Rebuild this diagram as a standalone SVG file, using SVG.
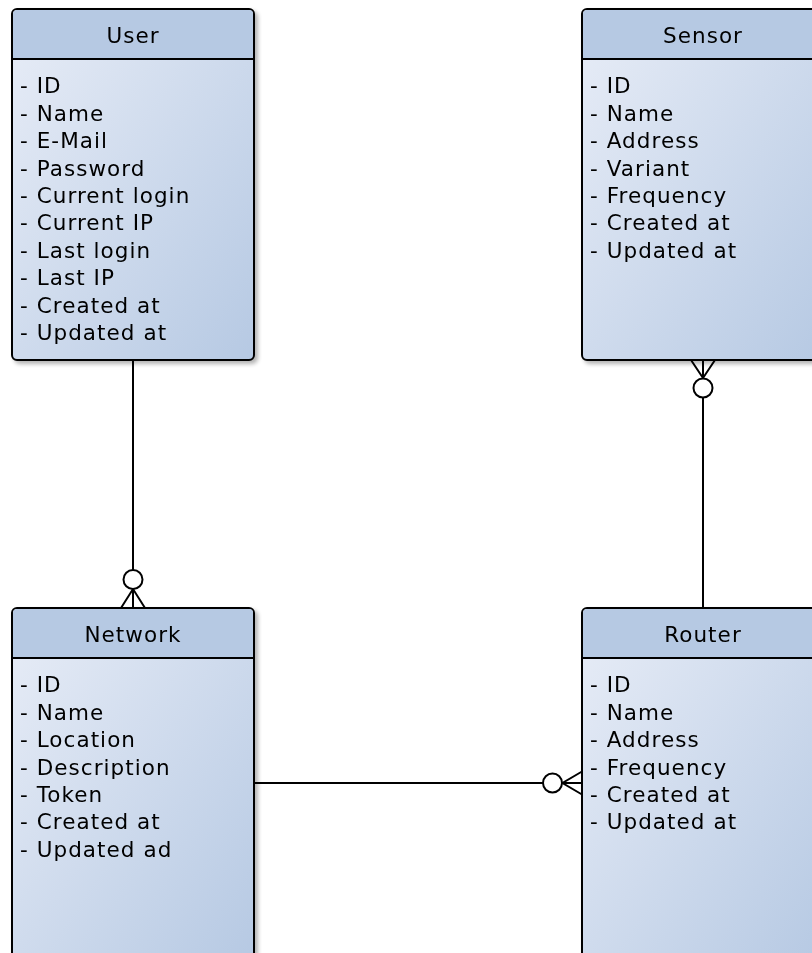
<svg xmlns="http://www.w3.org/2000/svg" width="812" height="953" viewBox="0 0 812 953">
  <defs>
    <linearGradient id="bodyFill" x1="0" y1="0" x2="1" y2="1">
      <stop offset="0" stop-color="#e8edf7"/>
      <stop offset="1" stop-color="#b6c9e3"/>
    </linearGradient>
    <filter id="shadow" x="-5%" y="-5%" width="115%" height="115%">
      <feGaussianBlur in="SourceAlpha" stdDeviation="2"/>
      <feOffset dx="3" dy="3" result="b"/>
      <feComponentTransfer><feFuncA type="linear" slope="0.3"/></feComponentTransfer>
      <feMerge><feMergeNode/><feMergeNode in="SourceGraphic"/></feMerge>
    </filter>
  </defs>
  <style>
    .box { fill: url(#bodyFill); stroke: #000; stroke-width: 2; }
    .head { fill: #b6c9e3; }
    .sep { stroke: #000; stroke-width: 2; }
    .title { font-family: "DejaVu Sans", sans-serif; font-size: 21.5px; letter-spacing: 1.05px; fill: #000; text-anchor: middle; }
    .attr { font-family: "DejaVu Sans", sans-serif; font-size: 21.5px; letter-spacing: 1.05px; fill: #000; }
    .conn { fill: none; stroke: #000; stroke-width: 2; }
    .ring { fill: #fff; stroke: #000; stroke-width: 2; }
  </style>

  <!-- User entity -->
  <g id="user" filter="url(#shadow)">
    <rect class="box" x="12" y="9" width="242" height="351" rx="5"/>
    <path class="head" d="M13 59 V14 a4 4 0 0 1 4 -4 H249 a4 4 0 0 1 4 4 V59 Z"/>
    <line class="sep" x1="12" y1="59" x2="254" y2="59"/>
    <text class="title" x="133" y="42.5">User</text>
    <text class="attr" x="20" y="93.3">- ID</text>
    <text class="attr" x="20" y="120.7">- Name</text>
    <text class="attr" x="20" y="148.1">- E-Mail</text>
    <text class="attr" x="20" y="175.5">- Password</text>
    <text class="attr" x="20" y="202.9">- Current login</text>
    <text class="attr" x="20" y="230.3">- Current IP</text>
    <text class="attr" x="20" y="257.7">- Last login</text>
    <text class="attr" x="20" y="285.1">- Last IP</text>
    <text class="attr" x="20" y="312.5">- Created at</text>
    <text class="attr" x="20" y="339.9">- Updated at</text>
  </g>

  <!-- Sensor entity -->
  <g id="sensor" filter="url(#shadow)">
    <rect class="box" x="582" y="9" width="242" height="351" rx="5"/>
    <path class="head" d="M583 59 V14 a4 4 0 0 1 4 -4 H819 a4 4 0 0 1 4 4 V59 Z"/>
    <line class="sep" x1="582" y1="59" x2="824" y2="59"/>
    <text class="title" x="703" y="42.5">Sensor</text>
    <text class="attr" x="590" y="93.3">- ID</text>
    <text class="attr" x="590" y="120.7">- Name</text>
    <text class="attr" x="590" y="148.1">- Address</text>
    <text class="attr" x="590" y="175.5">- Variant</text>
    <text class="attr" x="590" y="202.9">- Frequency</text>
    <text class="attr" x="590" y="230.3">- Created at</text>
    <text class="attr" x="590" y="257.7">- Updated at</text>
  </g>

  <!-- Network entity -->
  <g id="network" filter="url(#shadow)">
    <rect class="box" x="12" y="608" width="242" height="351" rx="5"/>
    <path class="head" d="M13 658 V613 a4 4 0 0 1 4 -4 H249 a4 4 0 0 1 4 4 V658 Z"/>
    <line class="sep" x1="12" y1="658" x2="254" y2="658"/>
    <text class="title" x="133" y="641.5">Network</text>
    <text class="attr" x="20" y="692.3">- ID</text>
    <text class="attr" x="20" y="719.7">- Name</text>
    <text class="attr" x="20" y="747.1">- Location</text>
    <text class="attr" x="20" y="774.5">- Description</text>
    <text class="attr" x="20" y="801.9">- Token</text>
    <text class="attr" x="20" y="829.3">- Created at</text>
    <text class="attr" x="20" y="856.7">- Updated ad</text>
  </g>

  <!-- Router entity -->
  <g id="router" filter="url(#shadow)">
    <rect class="box" x="582" y="608" width="242" height="351" rx="5"/>
    <path class="head" d="M583 658 V613 a4 4 0 0 1 4 -4 H819 a4 4 0 0 1 4 4 V658 Z"/>
    <line class="sep" x1="582" y1="658" x2="824" y2="658"/>
    <text class="title" x="703" y="641.5">Router</text>
    <text class="attr" x="590" y="692.3">- ID</text>
    <text class="attr" x="590" y="719.7">- Name</text>
    <text class="attr" x="590" y="747.1">- Address</text>
    <text class="attr" x="590" y="774.5">- Frequency</text>
    <text class="attr" x="590" y="801.9">- Created at</text>
    <text class="attr" x="590" y="829.3">- Updated at</text>
  </g>

  <!-- Relationships (zero-or-many ends) -->
  <g id="connectors">
    <!-- User to Network -->
    <path class="conn" d="M133 360 V608"/>
    <path class="conn" d="M121 608 L133 589 L145 608"/>
    <circle class="ring" cx="133" cy="579.5" r="9.5"/>

    <!-- Router to Sensor -->
    <path class="conn" d="M703 360 V608"/>
    <path class="conn" d="M691 360 L703 378 L715 360"/>
    <circle class="ring" cx="703" cy="388" r="9.5"/>

    <!-- Network to Router -->
    <path class="conn" d="M254 783 H582"/>
    <path class="conn" d="M582 771.5 L562.5 783 L582 794.5"/>
    <circle class="ring" cx="552.5" cy="783" r="9.5"/>
  </g>
</svg>
